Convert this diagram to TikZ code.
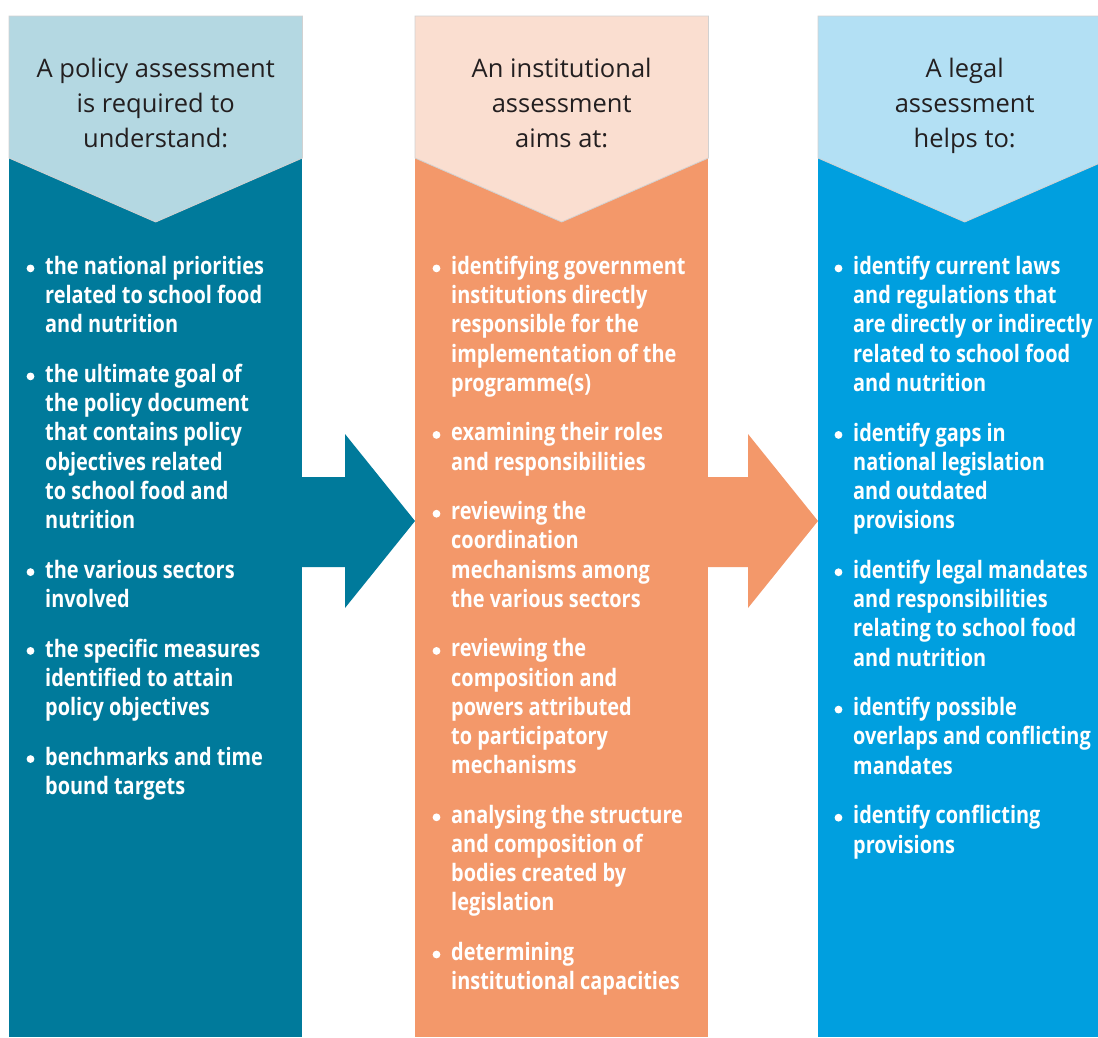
\documentclass[tikz,border=0pt]{standalone}
\usepackage{fontspec}
\setmainfont{Open Sans}
\newfontfamily\itemfamily[FakeStretch=0.83]{Open Sans}
\usepackage{tikz}
\usetikzlibrary{calc,positioning}
\definecolor{policydark}{HTML}{007A9B}
\definecolor{policylight}{HTML}{B4D8E2}
\definecolor{instdark}{HTML}{F3986A}
\definecolor{instlight}{HTML}{FADED0}
\definecolor{legaldark}{HTML}{009FDF}
\definecolor{legallight}{HTML}{B3E0F4}
\definecolor{headink}{HTML}{231F20}
\newcommand{\headsize}{\fontsize{25.5}{35}\selectfont}
\newcommand{\itemsize}{\itemfamily\bfseries\fontsize{24}{29.2}\selectfont}

\begin{document}
\begin{tikzpicture}[x=1pt,y=-1pt,
  column/.style={minimum width=293pt,minimum height=1021pt,inner sep=0pt,anchor=north west},
  headtext/.style={align=center,font=\headsize,text=headink,inner sep=0pt,anchor=north,execute at begin node=\strut},
  itemtext/.style={align=left,font=\itemsize,text=white,inner sep=0pt,anchor=north west,
    execute at begin node=\strut,execute at end node=\strut},
  itembelow/.style={below=22.2pt of #1.south west,anchor=north west}]
\useasboundingbox (0,0) rectangle (1098,1037);
\clip (0,0) rectangle (1098,1037);
\node[column,fill=policydark] (pcol) at (9,16) {};
\node[column,fill=instdark] (icol) at (415,16) {};
\node[column,fill=legaldark] (lcol) at (818,16) {};
% header chevrons
\foreach \c/\col in {pcol/policylight,icol/instlight,lcol/legallight}
  \filldraw[fill=\col,draw=black!18,line width=0.8pt] (\c.north west) -- (\c.north east) -- ++(0,142)
    -- ($(\c.north)+(0,206)$) -- ($(\c.north west)+(0,142)$) -- cycle;
% arrows between the columns
\foreach \a/\b/\col in {pcol/icol/policydark,icol/lcol/instdark}
  \fill[\col] ($(\a.north east)+(-1,461)$) -- ($(\b.north west)+(-70,461)$) -- ++(0,-43)
    -- ($(\b.north west)+(0,505)$) -- ($(\b.north west)+(-70,592)$) -- ++(0,-41)
    -- ($(\a.north east)+(-1,551)$) -- cycle;
\node[headtext] (phead) at ($(pcol.north)+(0,42)$) {A policy assessment\\is required to\\understand:};
\node[headtext] (ihead) at ($(icol.north)+(0,42)$) {An institutional\\assessment\\aims at:};
\node[headtext] (lhead) at ($(lcol.north)+(0,42)$) {A legal\\assessment\\helps to:};
% policy items
\node[itemtext] (p1) at ($(pcol.north west)+(36,240)$) {the national priorities\\related to school food\\and nutrition};
\node[itemtext,itembelow=p1] (p2) {the ultimate goal of\\the policy document\\that contains policy\\objectives related\\to school food and\\nutrition};
\node[itemtext,itembelow=p2] (p3) {the various sectors\\involved};
\node[itemtext,itembelow=p3] (p4) {the specific measures\\identified to attain\\policy objectives};
\node[itemtext,itembelow=p4] (p5) {benchmarks and time\\bound targets};
% institutional items
\node[itemtext] (i1) at ($(icol.north west)+(36,240)$) {identifying government\\institutions directly\\responsible for the\\implementation of the\\programme(s)};
\node[itemtext,itembelow=i1] (i2) {examining their roles\\and responsibilities};
\node[itemtext,itembelow=i2] (i3) {reviewing the\\coordination\\mechanisms among\\the various sectors};
\node[itemtext,itembelow=i3] (i4) {reviewing the\\composition and\\powers attributed\\to participatory\\mechanisms};
\node[itemtext,itembelow=i4] (i5) {analysing the structure\\and composition of\\bodies created by\\legislation};
\node[itemtext,itembelow=i5] (i6) {determining\\institutional capacities};
% legal items
\node[itemtext] (l1) at ($(lcol.north west)+(35,240)$) {identify current laws\\and regulations that\\are directly or indirectly\\related to school food\\and nutrition};
\node[itemtext,itembelow=l1] (l2) {identify gaps in\\national legislation\\and outdated\\provisions};
\node[itemtext,itembelow=l2] (l3) {identify legal mandates\\and responsibilities\\relating to school food\\and nutrition};
\node[itemtext,itembelow=l3] (l4) {identify possible\\overlaps and conflicting\\mandates};
\node[itemtext,itembelow=l4] (l5) {identify conflicting\\provisions};
\foreach \n in {p1,p2,p3,p4,p5,i1,i2,i3,i4,i5,i6,l1,l2,l3,l4,l5}
  \fill[white] (\n.north west) ++(-14.5,12.4) circle (3.9);
\end{tikzpicture}
\end{document}
